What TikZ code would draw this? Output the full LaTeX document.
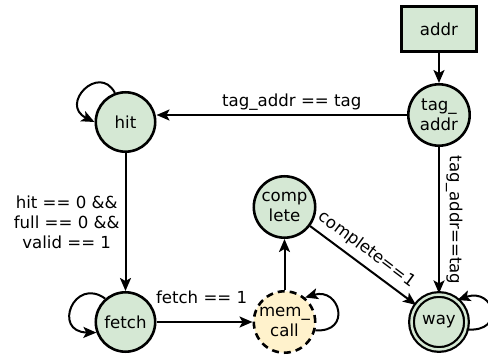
\documentclass[tikz,border=0pt]{standalone}
\usepackage{fontspec}
\setmainfont{DejaVu Sans}
\usetikzlibrary{arrows.meta,calc}
\definecolor{gfill}{HTML}{D5E8D4}
\definecolor{yfill}{HTML}{FFF2CC}
\begin{document}
\begin{tikzpicture}[x=1pt,y=-1pt,
  every node/.style={font=\fontsize{16.6}{20}\selectfont},
  state/.style={circle, draw, line width=2.6pt, fill=gfill, minimum size=59.4pt, inner sep=0pt, align=center},
  edge/.style={line width=2pt, -{Stealth[length=13pt,width=11pt,inset=3pt]}},
  lbl/.style={inner sep=1pt, align=center}]
\path[use as bounding box] (0,0) rectangle (488,356);
\clip (0,0) rectangle (488,356);

\node[rectangle, draw, line width=3pt, fill=gfill, minimum width=75pt, minimum height=45pt] (addr) at (439,29) {addr};
\node[state, minimum size=61.4pt] (tag) at (439,115) {tag\_\\addr};
\node[state] (hit) at (125.5,122) {hit};
\node[state] (fetch) at (125.5,322) {fetch};
\node[state, fill=yfill, dash pattern=on 7pt off 5pt, minimum size=61.4pt] (mem) at (284.5,322) {mem\_\\call};
\node[state, minimum size=61.4pt] (complete) at (284.5,207) {comp\\lete};
\node[state, line width=2.2pt, double=gfill, double distance=2.5pt, minimum size=55pt] (way) at (439,322) {way};

\draw[edge] (addr) -- (tag);
\draw[edge] (tag.west) -- node[lbl, pos=0.46, above=3pt] {tag\_addr == tag} (tag.west -| hit.east);
\draw[edge] (hit) -- node[lbl, left=4pt] {hit == 0 \&\&\\full == 0 \&\&\\valid == 1} (fetch);
\draw[edge] (fetch) -- node[lbl, pos=0.47, above=16pt] {fetch == 1} (mem);
\draw[edge] (mem) -- (complete);
\draw[edge] (complete) -- node[lbl, sloped, above=5pt, pos=0.45] {complete==1} (way);
\draw[edge] (tag) -- node[lbl, midway, rotate=-90, anchor=south, inner ysep=6pt] {tag\_addr==tag} (way);

\draw[edge] (hit.110) .. controls ($(hit)+(-26.5,-59)$) and ($(hit)+(-66.5,-17.5)$) .. (hit.180);
\draw[edge] (fetch.131) .. controls ($(fetch)+(-51.5,-46)$) and ($(fetch)+(-73.5,10)$) .. (fetch.200);
\draw[edge] (mem.-15) .. controls ($(mem)+(67.5,11)$) and ($(mem)+(55.5,-35)$) .. (mem.50);
\draw[edge] (way.-15) .. controls ($(way)+(67.5,11)$) and ($(way)+(55.5,-35)$) .. (way.50);
\end{tikzpicture}
\end{document}
